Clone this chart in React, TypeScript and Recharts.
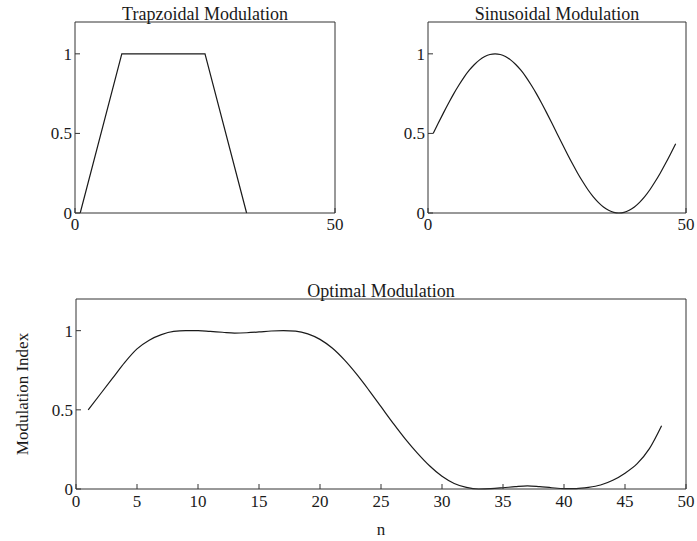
import React from 'react';
import { LineChart, Line, XAxis, YAxis, Label } from 'recharts';

const W = 697;
const H = 541;

// Trapezoidal modulation (corner points)
const trapN = [1, 9, 25, 33];
const trapValues = [0, 1, 1, 0];

// Sinusoidal modulation, n = 1..48
const sineN = [
  1, 2, 3, 4, 5, 6, 7, 8, 9, 10, 11, 12, 13, 14, 15, 16, 17, 18, 19, 20, 21, 22, 23, 24,
  25, 26, 27, 28, 29, 30, 31, 32, 33, 34, 35, 36, 37, 38, 39, 40, 41, 42, 43, 44, 45, 46, 47, 48,
];
const sineValues = [
  0.5, 0.565, 0.629, 0.691, 0.75, 0.804, 0.854, 0.897, 0.933, 0.962, 0.983, 0.996,
  1.0, 0.996, 0.983, 0.962, 0.933, 0.897, 0.854, 0.804, 0.75, 0.691, 0.629, 0.565,
  0.5, 0.435, 0.371, 0.309, 0.25, 0.196, 0.146, 0.103, 0.067, 0.038, 0.017, 0.004,
  0.0, 0.004, 0.017, 0.038, 0.067, 0.103, 0.146, 0.196, 0.25, 0.309, 0.371, 0.435,
];

// Optimal modulation, n = 1..48
const optN = sineN;
const optValues = [
  0.5, 0.6, 0.7, 0.8, 0.885, 0.94, 0.975, 0.995, 1.0, 1.0, 0.995, 0.99,
  0.985, 0.987, 0.992, 0.998, 1.0, 0.997, 0.98, 0.945, 0.89, 0.815, 0.725, 0.625,
  0.52, 0.415, 0.315, 0.225, 0.145, 0.08, 0.035, 0.01, 0.0, 0.002, 0.008, 0.015,
  0.02, 0.015, 0.008, 0.003, 0.003, 0.01, 0.025, 0.055, 0.1, 0.16, 0.255, 0.4,
];

const smallXTicks = [0, 50];
const wideXTicks = [0, 5, 10, 15, 20, 25, 30, 35, 40, 45, 50];
const yTicks = [0, 0.5, 1];

const toRows = (ns: number[], vs: number[]) => ns.map((n, i) => ({ n, v: vs[i] }));

const INK = '#1a1a1a';
const AXIS = '#333';

interface PanelProps {
  data: { n: number; v: number }[];
  plot: { left: number; top: number; right: number; bottom: number };
  xTicks: number[];
  title: string;
  xLabel?: string;
  yLabel?: string;
  curve: 'linear' | 'monotone';
  xTickMargin: number;
}

const Panel: React.FC<PanelProps> = ({ data, plot, xTicks, title, xLabel, yLabel, curve, xTickMargin }) => {
  const yAxisW = 60;
  const xAxisH = 30;
  const margin = {
    left: plot.left - yAxisW,
    top: plot.top - 1,
    right: W - plot.right - 1,
    bottom: H - plot.bottom - xAxisH,
  };
  const tickStyle = { fill: INK, fontSize: 17 };

  return (
    <div style={{ position: 'absolute', left: 0, top: 0 }}>
      <LineChart width={W} height={H} data={data} margin={margin}>
        <XAxis
          xAxisId="b"
          dataKey="n"
          type="number"
          domain={[0, 50]}
          ticks={xTicks}
          interval={0}
          height={xAxisH}
          tickSize={-5}
          tickMargin={xTickMargin}
          stroke={AXIS}
          tick={tickStyle}
        >
          {xLabel && <Label value={xLabel} position="bottom" offset={4} fill={INK} fontSize={17} />}
        </XAxis>
        <XAxis
          xAxisId="t"
          orientation="top"
          dataKey="n"
          type="number"
          domain={[0, 50]}
          ticks={xTicks}
          interval={0}
          height={1}
          tickSize={-5}
          stroke={AXIS}
          tick={false}
        >
          <Label value={title} position="top" offset={1} fill={INK} fontSize={18} />
        </XAxis>
        <YAxis
          yAxisId="l"
          type="number"
          domain={[0, 1.2]}
          ticks={yTicks}
          interval={0}
          width={yAxisW}
          tickSize={-5}
          tickMargin={8}
          stroke={AXIS}
          tick={tickStyle}
        >
          {yLabel && <Label value={yLabel} angle={-90} position="center" dx={-24} fill={INK} fontSize={17} />}
        </YAxis>
        <YAxis
          yAxisId="r"
          orientation="right"
          type="number"
          domain={[0, 1.2]}
          ticks={yTicks}
          interval={0}
          width={1}
          tickSize={-5}
          stroke={AXIS}
          tick={false}
        />
        <Line
          xAxisId="b"
          yAxisId="l"
          dataKey="v"
          type={curve}
          stroke={INK}
          strokeWidth={1.2}
          dot={false}
          isAnimationActive={false}
        />
      </LineChart>
    </div>
  );
};

export default function App() {
  return (
    <div
      style={{
        position: 'absolute',
        left: 0,
        top: 0,
        width: W,
        height: H,
        background: '#fff',
        fontFamily: '"Liberation Serif", "DejaVu Serif", serif',
      }}
    >
      <Panel
        data={toRows(trapN, trapValues)}
        plot={{ left: 75, top: 22, right: 335, bottom: 213 }}
        xTicks={smallXTicks}
        title="Trapzoidal Modulation"
        curve="linear"
        xTickMargin={10}
      />
      <Panel
        data={toRows(sineN, sineValues)}
        plot={{ left: 428, top: 22, right: 686, bottom: 213 }}
        xTicks={smallXTicks}
        title="Sinusoidal Modulation"
        curve="monotone"
        xTickMargin={10}
      />
      <Panel
        data={toRows(optN, optValues)}
        plot={{ left: 76, top: 299, right: 686, bottom: 489 }}
        xTicks={wideXTicks}
        title="Optimal Modulation"
        xLabel="n"
        yLabel="Modulation Index"
        curve="monotone"
        xTickMargin={11}
      />
    </div>
  );
}
